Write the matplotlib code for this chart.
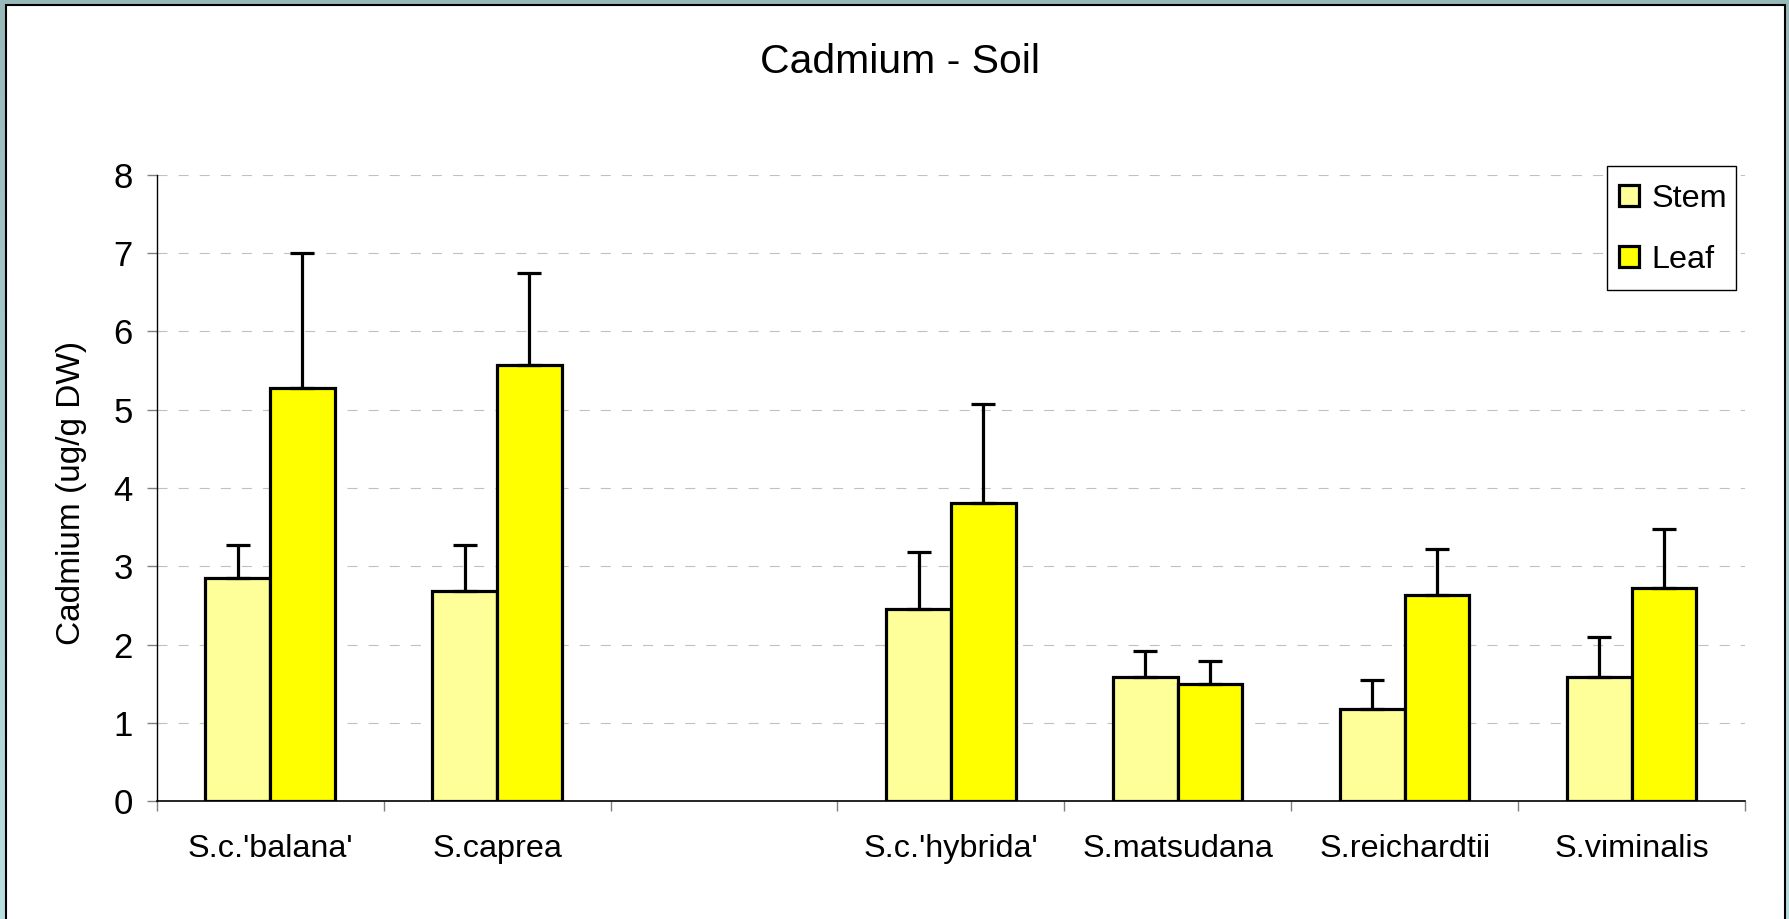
import matplotlib
matplotlib.use("Agg")
import matplotlib.pyplot as plt
import numpy as np
from matplotlib.patches import Rectangle
from matplotlib.colors import LinearSegmentedColormap

# ---- data ----
categories = ["S.c.'balana'", "S.caprea", "", "S.c.'hybrida'", "S.matsudana", "S.reichardtii", "S.viminalis"]
stem = [2.85, 2.68, np.nan, 2.46, 1.58, 1.17, 1.58]
stem_err = [0.42, 0.59, np.nan, 0.72, 0.34, 0.37, 0.51]
leaf = [5.28, 5.57, np.nan, 3.81, 1.50, 2.63, 2.72]
leaf_err = [1.72, 1.18, np.nan, 1.26, 0.29, 0.59, 0.75]
series_names = ["Stem", "Leaf"]
yticks = [0, 1, 2, 3, 4, 5, 6, 7, 8]

plt.rcParams['font.family'] = ['Liberation Sans', 'DejaVu Sans']

W, H = 1789, 919
fig = plt.figure(figsize=(W / 100, H / 100), dpi=100)

# background gradient + white panel
bg = fig.add_axes([0, 0, 1, 1], zorder=-10)
grad = np.linspace(0, 1, 256).reshape(-1, 1)
cmap = LinearSegmentedColormap.from_list("bgc", ["#98b9ba", "#b8dfe2"])
bg.imshow(grad, aspect='auto', cmap=cmap, extent=[0, W, H, 0])
bg.add_patch(Rectangle((6, 5), 1779, 920, facecolor='white', edgecolor='black', linewidth=1.5))
bg.set_xlim(0, W)
bg.set_ylim(H, 0)
bg.axis('off')

ax = fig.add_axes([156.7 / W, 1 - 801 / H, (1745 - 156.7) / W, (801 - 175) / H])
ax.set_facecolor('none')

x = np.arange(len(categories))
w = 0.285
stem_arr = np.array(stem, dtype=float)
leaf_arr = np.array(leaf, dtype=float)
se = np.array(stem_err, dtype=float)
le = np.array(leaf_err, dtype=float)

ekw = dict(elinewidth=2.3, capthick=2.3, ecolor='black', capsize=8.6)
b1 = ax.bar(x - w / 2, stem_arr, w, color='#FFFF99', edgecolor='black', linewidth=2.3,
            yerr=[np.zeros_like(se), se], error_kw=ekw, label=series_names[0], zorder=3)
b2 = ax.bar(x + w / 2, leaf_arr, w, color='#FFFF00', edgecolor='black', linewidth=2.3,
            yerr=[np.zeros_like(le), le], error_kw=ekw, label=series_names[1], zorder=3)

ax.set_xlim(-0.5, len(categories) - 0.5)
ax.set_ylim(0, 8)
ax.set_yticks(yticks)
ax.set_yticklabels([str(t) for t in yticks], fontsize=25)
ax.yaxis.grid(True, linestyle=(0, (9, 10)), color='#c0c0c0', linewidth=0.8, zorder=0)
ax.set_axisbelow(True)

ax.set_xticks(x)
ax.set_xticklabels(categories, fontsize=23.3)
ax.set_xticks(np.arange(len(categories) + 1) - 0.5, minor=True)
ax.tick_params(axis='x', which='major', length=0, pad=24)
ax.tick_params(axis='x', which='minor', length=7.2, width=1, color='#808080', direction='out')
ax.tick_params(axis='y', length=7.2, width=1, color='#808080', pad=10, direction='out')

for s in ['top', 'right']:
    ax.spines[s].set_visible(False)
ax.spines['left'].set_linewidth(1.0)
ax.spines['bottom'].set_linewidth(1.2)

ax.set_ylabel("Cadmium (ug/g DW)", fontsize=24)
ax.yaxis.set_label_coords(-0.0440, 0.492)

fig.text(900 / W, 1 - 72.7 / H, "Cadmium - Soil", fontsize=29.4, ha='center', va='baseline')

# legend frame drawn separately for exact box size
frame = Rectangle((1607 / W, 1 - 290 / H), 129 / W, 124 / H, transform=fig.transFigure,
                  facecolor='white', edgecolor='black', linewidth=1.0, zorder=5)
fig.add_artist(frame)
leg = fig.legend([b1, b2], series_names, loc='center left',
                 bbox_to_anchor=(1619 / W, 1 - 229.5 / H),
                 fontsize=23.3, frameon=False, borderpad=0, handlelength=0.62,
                 handleheight=0.62, handletextpad=0.38, labelspacing=0.95,
                 borderaxespad=0)
leg.set_zorder(6)

fig.savefig("out.png", dpi=100)
